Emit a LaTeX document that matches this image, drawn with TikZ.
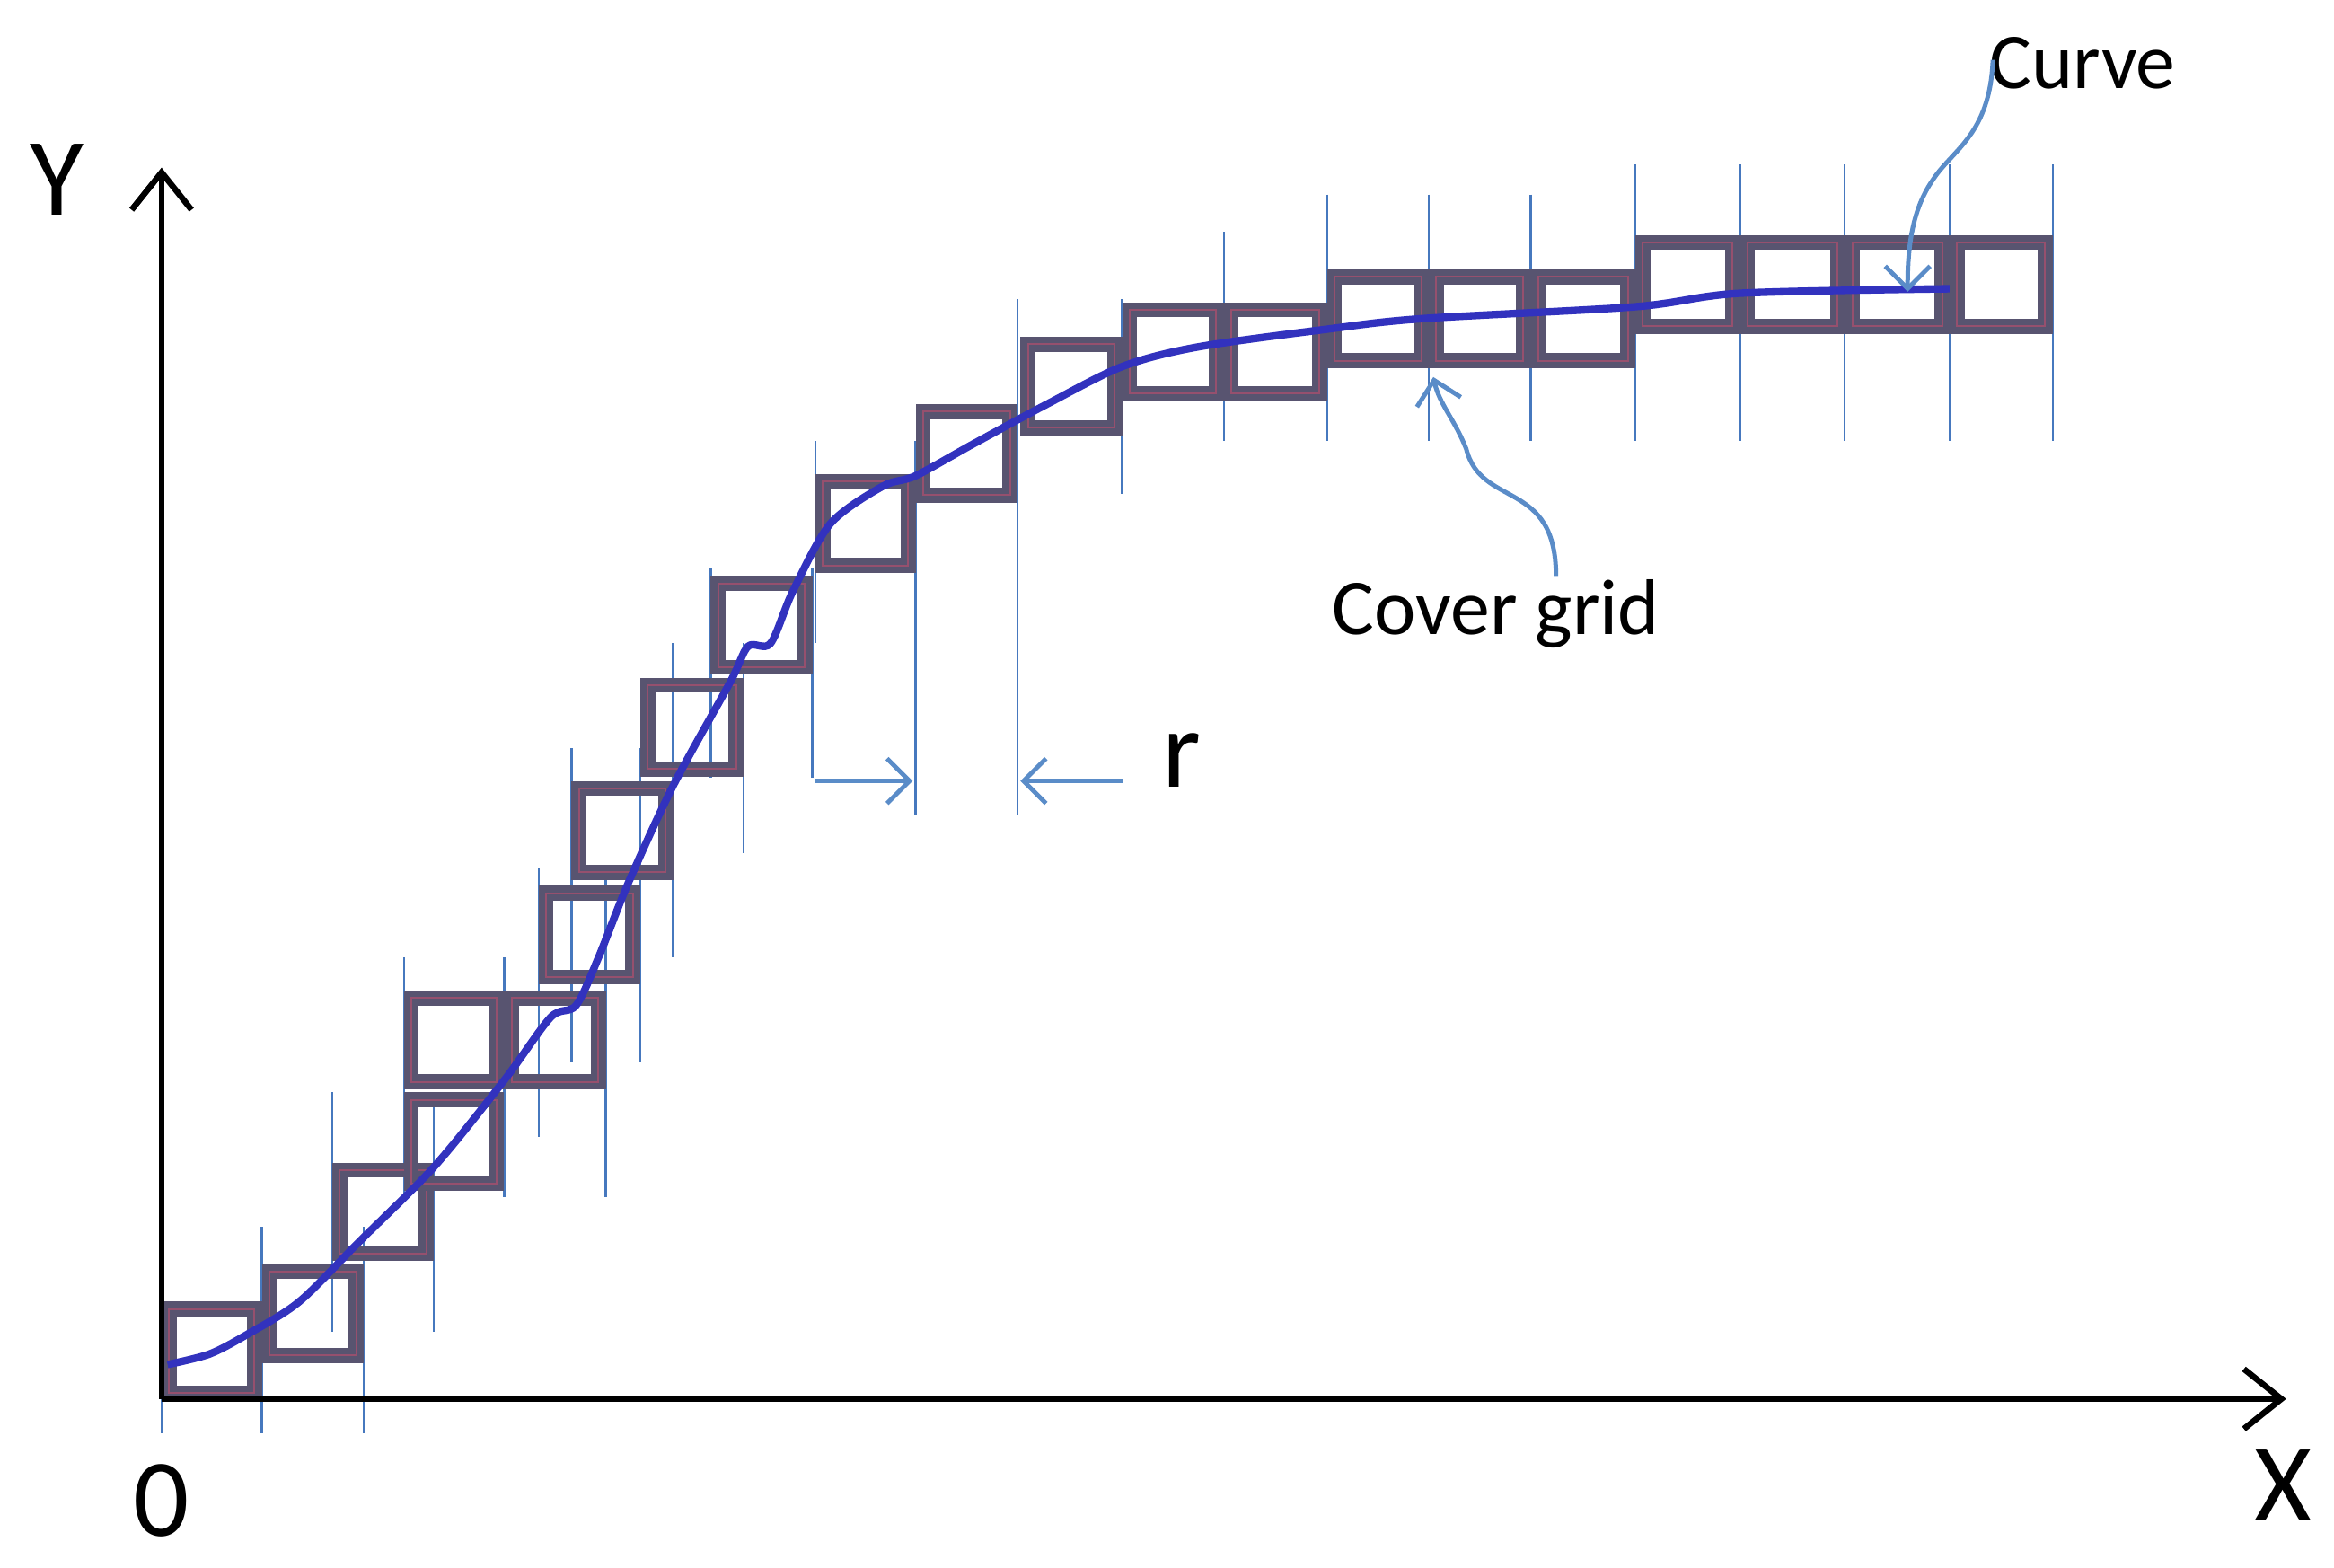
\documentclass[tikz,border=0pt]{standalone}
\usepackage{fontspec}
\setmainfont{Carlito}
\usetikzlibrary{arrows.meta}
\definecolor{boxc}{RGB}{88,84,112}
\definecolor{boxr}{RGB}{150,80,110}
\definecolor{tick}{RGB}{70,120,190}
\definecolor{curvec}{RGB}{50,50,190}
\definecolor{ann}{RGB}{90,140,200}
\begin{document}
\begin{tikzpicture}[x=0.01cm,y=-0.01cm,
  cell/.style={draw=boxc,line width=0.1cm},
  cellin/.style={draw=boxr,line width=0.012cm},
  tk/.style={draw=tick,line width=0.015cm},
  lbl/.style={font=\fontsize{15}{18}\selectfont,inner sep=0pt},
  big/.style={font=\fontsize{21}{25}\selectfont,inner sep=0pt},
  ar/.style={draw=ann,line width=0.03cm,-{Straight Barb[length=0.15cm,width=0.3cm]}}]
\useasboundingbox (0,0) rectangle (1560,1048);
% ticks: x, top, bottom
\foreach \x/\t/\b in {108/870/958,175/820/958,243/820/958,222/730/890,290/730/890,270/640/800,337/640/800,360/580/760,405/580/800,428/500/710,382/500/710,450/430/640,497/430/570,475/380/520,543/380/520,545/295/430,612/295/545,680/200/545,750/200/330,818/155/295,887/130/295,955/130/295,1023/130/295,1093/110/295,1163/110/295,1233/110/295,1303/110/295,1372/110/295}
  \draw[tk] (\x,\t) -- (\x,\b);
% cells
\foreach \x/\y/\w in {108/870/67,175/845/68,222/777/68,270/730/67,270/662/67,337/662/68,360/592/68,382/522/68,428/453/69,475/385/68,545/317/67,612/270/68,682/225/68,750/202/68,818/202/69,887/180/68,955/180/68,1023/180/70,1093/157/70,1163/157/70,1233/157/70,1303/157/69}
 {\draw[cell] (\x+5,\y+5) rectangle (\x+\w-5,\y+61);
  \draw[cellin] (\x+5,\y+5) rectangle (\x+\w-5,\y+61);}
% curve
\draw[curvec,line width=0.05cm,line join=round] plot[smooth,tension=0.5] coordinates {(112,912) (140,905) (165,892) (200,870) (240,830) (290,780) (337,722) (368,680) (385,672) (400,640) (420,590) (450,525) (488,456) (500,432) (515,430) (530,395) (555,350) (590,325) (612,318) (650,297) (700,270) (750,245) (800,232) (887,220) (950,213) (1093,205) (1163,196) (1303,193)};
% axes
\draw[line width=0.04cm,-{Straight Barb[length=0.25cm,width=0.4cm]}] (108,935) -- (108,112);
\draw[line width=0.04cm,-{Straight Barb[length=0.25cm,width=0.4cm]}] (108,935) -- (1528,935);
\node[big] (Y) at (38,120) {Y};
\node[big] (X) at (1526,993) {X};
\node[big] (O) at (108,1003) {0};
% r
\coordinate (ra) at (545,522); \coordinate (rb) at (610,522);
\coordinate (rc) at (750,522); \coordinate (rd) at (682,522);
\draw[ar] (ra) -- (rb);
\draw[ar] (rc) -- (rd);
\node[lbl,font=\fontsize{21}{25}\selectfont] (r) at (790,508) {r};
% labels
\node[lbl] (cg) at (1000,410) {Cover grid};
\coordinate (cgt) at (958,252);
\draw[ar] (1040,385) .. controls (1040,320) and (990,340) .. (980,300) .. controls (972,280) and (962,270) .. (cgt);
\node[lbl] (cv) at (1392,42) {Curve};
\coordinate (cvt) at (1275,195);
\draw[ar] (1332,40) .. controls (1330,90) and (1305,100) .. (1292,120) .. controls (1278,140) and (1275,165) .. (cvt);
\end{tikzpicture}
\end{document}
